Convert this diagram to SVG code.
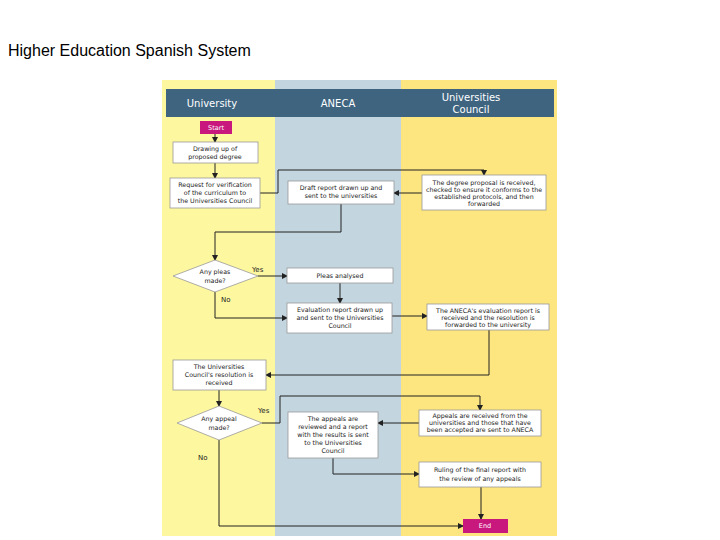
<svg xmlns="http://www.w3.org/2000/svg" width="720" height="540" viewBox="0 0 720 540">
<style>
.n{fill:#fff;stroke:#999;stroke-width:0.8}
.t{font-family:"DejaVu Sans",sans-serif;font-size:6.3px;fill:#222;text-anchor:middle}
.h{font-family:"DejaVu Sans",sans-serif;font-size:10px;fill:#fff;text-anchor:middle}
.c{fill:none;stroke:#222;stroke-width:1}
.lb{font-family:"DejaVu Sans",sans-serif;font-size:7px;fill:#222}
.term{fill:#c8177d}
.tw{font-family:"DejaVu Sans",sans-serif;font-size:6.5px;fill:#fff;text-anchor:middle}
</style>
<defs><marker id="a" markerWidth="6" markerHeight="6" refX="5" refY="3" orient="auto" markerUnits="userSpaceOnUse"><path d="M0,0L6,3L0,6z" fill="#222"/></marker></defs>
<rect width="720" height="540" fill="#fff"/>
<text x="8" y="56" font-family="Liberation Sans,Arial,sans-serif" font-size="16" fill="#000">Higher Education Spanish System</text>
<g id="lanes">
<rect x="162" y="80" width="113" height="456" fill="#fdf7a0"/>
<rect x="275" y="80" width="126" height="456" fill="#c3d5df"/>
<rect x="401" y="80" width="156" height="456" fill="#fde680"/>
<rect x="166" y="89" width="388" height="28" fill="#3e6480"/>
<text class="h" x="212" y="107">University</text>
<text class="h" x="338" y="107">ANECA</text>
<text class="h" x="471" y="101">Universities</text>
<text class="h" x="471" y="113">Council</text>
</g>
<g id="connectors">
<path class="c" d="M215,134V142" marker-end="url(#a)"/>
<path class="c" d="M215,163V178" marker-end="url(#a)"/>
<path class="c" d="M260,193H278V170H484V175" marker-end="url(#a)"/>
<path class="c" d="M422,193H394" marker-end="url(#a)"/>
<path class="c" d="M341,204V232H215V260" marker-end="url(#a)"/>
<path class="c" d="M258,276H287" stroke="#bbb" marker-end="url(#a)"/>
<path class="c" d="M340,283V303" marker-end="url(#a)"/>
<path class="c" d="M215,292V318H287" marker-end="url(#a)"/>
<path class="c" d="M392,316H427" marker-end="url(#a)"/>
<path class="c" d="M489,330V375H266" marker-end="url(#a)"/>
<path class="c" d="M219,390V406" marker-end="url(#a)"/>
<path class="c" d="M262,423H280V396H480V410" marker-end="url(#a)"/>
<path class="c" d="M419,423H378" marker-end="url(#a)"/>
<path class="c" d="M333,458V474H419" marker-end="url(#a)"/>
<path class="c" d="M481,487V519" marker-end="url(#a)"/>
<path class="c" d="M219,440V526H463" marker-end="url(#a)"/>
<text class="lb" x="252" y="272">Yes</text>
<text class="lb" x="221" y="302">No</text>
<text class="lb" x="258" y="413">Yes</text>
<text class="lb" x="198" y="460">No</text>
</g>
<g id="start"><rect class="term" x="200" y="121" width="32" height="13"/><text class="tw" x="216" y="130">Start</text></g>
<g id="drawing"><rect class="n" x="173" y="142" width="85" height="21"/><text class="t" x="215" y="151">Drawing up of</text><text class="t" x="215" y="159">proposed degree</text></g>
<g id="request"><rect class="n" x="170" y="178" width="90" height="30"/><text class="t" x="215" y="187">Request for verification</text><text class="t" x="215" y="195">of the curriculum to</text><text class="t" x="215" y="203">the Universities Council</text></g>
<g id="draft"><rect class="n" x="288" y="181" width="106" height="23"/><text class="t" x="341" y="190">Draft report drawn up and</text><text class="t" x="341" y="198">sent to the universities</text></g>
<g id="proposal"><rect class="n" x="422" y="175" width="124" height="35"/><text class="t" x="484" y="185">The degree proposal is received,</text><text class="t" x="484" y="192">checked to ensure it conforms to the</text><text class="t" x="484" y="199">established protocols, and then</text><text class="t" x="484" y="206">forwarded</text></g>
<g id="pleas"><polygon points="215,260 258,276 215,292 173,276" fill="#fff" stroke="#999" stroke-width="0.8"/><text class="t" x="215" y="274">Any pleas</text><text class="t" x="215" y="283">made?</text></g>
<g id="pleasan"><rect class="n" x="287" y="268" width="106" height="15"/><text class="t" x="340" y="278">Pleas analysed</text></g>
<g id="eval"><rect class="n" x="287" y="303" width="105" height="30"/><text class="t" x="340" y="312">Evaluation report drawn up</text><text class="t" x="340" y="320">and sent to the Universities</text><text class="t" x="340" y="328">Council</text></g>
<g id="anecarec"><rect class="n" x="427" y="304" width="122" height="26"/><text class="t" x="488" y="313">The ANECA's evaluation report is</text><text class="t" x="488" y="320">received and the resolution is</text><text class="t" x="488" y="327">forwarded to the university</text></g>
<g id="resolution"><rect class="n" x="173" y="360" width="93" height="30"/><text class="t" x="219" y="369">The Universities</text><text class="t" x="219" y="377">Council's resolution is</text><text class="t" x="219" y="385">received</text></g>
<g id="appeal"><polygon points="219,406 262,423 219,440 177,423" fill="#fff" stroke="#999" stroke-width="0.8"/><text class="t" x="219" y="421">Any appeal</text><text class="t" x="219" y="430">made?</text></g>
<g id="reviewed"><rect class="n" x="288" y="412" width="90" height="46"/><text class="t" x="333" y="421">The appeals are</text><text class="t" x="333" y="429">reviewed and a report</text><text class="t" x="333" y="437">with the results is sent</text><text class="t" x="333" y="445">to the Universities</text><text class="t" x="333" y="453">Council</text></g>
<g id="apprec"><rect class="n" x="419" y="410" width="122" height="26"/><text class="t" x="480" y="418">Appeals are received from the</text><text class="t" x="480" y="425">universities and those that have</text><text class="t" x="480" y="432">been accepted are sent to ANECA</text></g>
<g id="ruling"><rect class="n" x="419" y="462" width="122" height="25"/><text class="t" x="480" y="472">Ruling of the final report with</text><text class="t" x="480" y="481">the review of any appeals</text></g>
<g id="end"><rect class="term" x="463" y="519" width="45" height="14"/><text class="tw" x="485" y="528">End</text></g>
</svg>
